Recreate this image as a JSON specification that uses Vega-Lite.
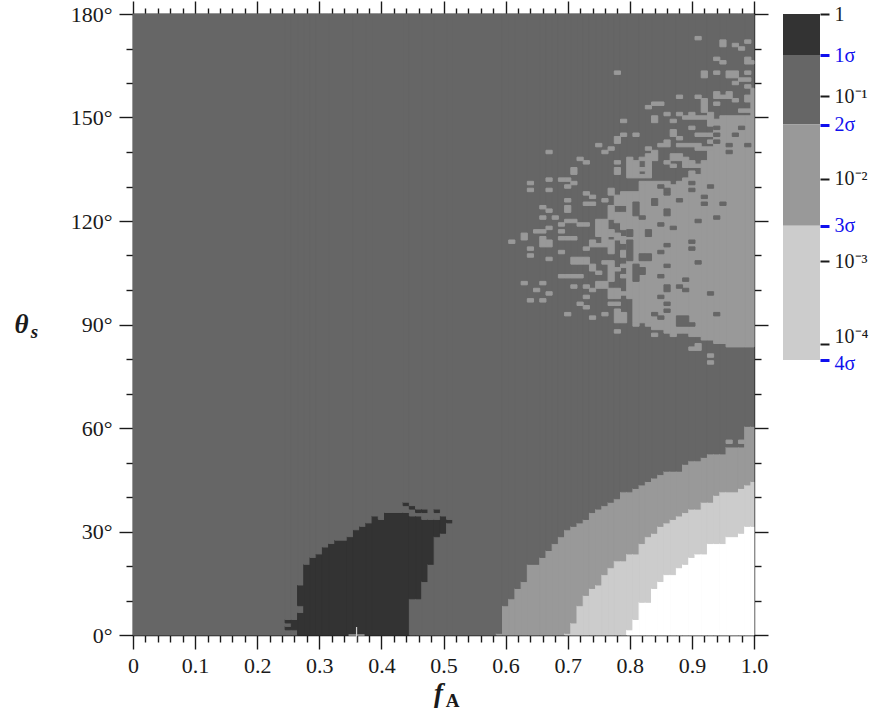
{
"$schema": "https://vega.github.io/schema/vega-lite/v6.json",
"background": "white",
"padding": {"left": 13, "top": 0, "right": 10, "bottom": 8},
"bounds": "flush",
"spacing": 29,
"datasets": {
"marker": [{"f": 0.36, "t": 0}],
"bar": [
{"p0": 0.3173, "p1": 1, "b": 0},
{"p0": 0.0455, "p1": 0.3173, "b": 1},
{"p0": 0.0027, "p1": 0.0455, "b": 2},
{"p0": 0.00006334, "p1": 0.0027, "b": 3}
],
"cells": [
{"f0":0,"f1":0.245,"t0":0,"t1":180,"b":1},
{"f0":0.245,"f1":0.255,"t0":0,"t1":1.5,"b":1},
{"f0":0.245,"f1":0.255,"t0":1.5,"t1":2.5,"b":0},
{"f0":0.245,"f1":0.255,"t0":2.5,"t1":3.5,"b":1},
{"f0":0.245,"f1":0.255,"t0":3.5,"t1":4.5,"b":0},
{"f0":0.245,"f1":0.255,"t0":4.5,"t1":180,"b":1},
{"f0":0.255,"f1":0.265,"t0":0,"t1":1.5,"b":1},
{"f0":0.255,"f1":0.265,"t0":1.5,"t1":4.5,"b":0},
{"f0":0.255,"f1":0.265,"t0":4.5,"t1":180,"b":1},
{"f0":0.265,"f1":0.275,"t0":0,"t1":6.5,"b":0},
{"f0":0.265,"f1":0.275,"t0":6.5,"t1":8.5,"b":1},
{"f0":0.265,"f1":0.275,"t0":8.5,"t1":14.5,"b":0},
{"f0":0.265,"f1":0.275,"t0":14.5,"t1":180,"b":1},
{"f0":0.275,"f1":0.285,"t0":0,"t1":20.5,"b":0},
{"f0":0.275,"f1":0.285,"t0":20.5,"t1":180,"b":1},
{"f0":0.285,"f1":0.295,"t0":0,"t1":22.5,"b":0},
{"f0":0.285,"f1":0.295,"t0":22.5,"t1":180,"b":1},
{"f0":0.295,"f1":0.305,"t0":0,"t1":23.5,"b":0},
{"f0":0.295,"f1":0.305,"t0":23.5,"t1":180,"b":1},
{"f0":0.305,"f1":0.315,"t0":0,"t1":25.5,"b":0},
{"f0":0.305,"f1":0.315,"t0":25.5,"t1":180,"b":1},
{"f0":0.315,"f1":0.325,"t0":0,"t1":26.5,"b":0},
{"f0":0.315,"f1":0.325,"t0":26.5,"t1":180,"b":1},
{"f0":0.325,"f1":0.345,"t0":0,"t1":27.5,"b":0},
{"f0":0.325,"f1":0.345,"t0":27.5,"t1":180,"b":1},
{"f0":0.345,"f1":0.355,"t0":0,"t1":28.5,"b":0},
{"f0":0.345,"f1":0.355,"t0":28.5,"t1":180,"b":1},
{"f0":0.355,"f1":0.365,"t0":0,"t1":30.5,"b":0},
{"f0":0.355,"f1":0.365,"t0":30.5,"t1":180,"b":1},
{"f0":0.365,"f1":0.375,"t0":0,"t1":31.5,"b":0},
{"f0":0.365,"f1":0.375,"t0":31.5,"t1":180,"b":1},
{"f0":0.375,"f1":0.385,"t0":0,"t1":32.5,"b":0},
{"f0":0.375,"f1":0.385,"t0":32.5,"t1":180,"b":1},
{"f0":0.385,"f1":0.395,"t0":0,"t1":34.5,"b":0},
{"f0":0.385,"f1":0.395,"t0":34.5,"t1":180,"b":1},
{"f0":0.395,"f1":0.405,"t0":0,"t1":33.5,"b":0},
{"f0":0.395,"f1":0.405,"t0":33.5,"t1":180,"b":1},
{"f0":0.405,"f1":0.435,"t0":0,"t1":35.5,"b":0},
{"f0":0.405,"f1":0.435,"t0":35.5,"t1":180,"b":1},
{"f0":0.435,"f1":0.445,"t0":0,"t1":35.5,"b":0},
{"f0":0.435,"f1":0.445,"t0":35.5,"t1":37.5,"b":1},
{"f0":0.435,"f1":0.445,"t0":37.5,"t1":38.5,"b":0},
{"f0":0.435,"f1":0.445,"t0":38.5,"t1":180,"b":1},
{"f0":0.445,"f1":0.455,"t0":0,"t1":10.5,"b":1},
{"f0":0.445,"f1":0.455,"t0":10.5,"t1":34.5,"b":0},
{"f0":0.445,"f1":0.455,"t0":34.5,"t1":36.5,"b":1},
{"f0":0.445,"f1":0.455,"t0":36.5,"t1":37.5,"b":0},
{"f0":0.445,"f1":0.455,"t0":37.5,"t1":180,"b":1},
{"f0":0.455,"f1":0.465,"t0":0,"t1":10.5,"b":1},
{"f0":0.455,"f1":0.465,"t0":10.5,"t1":34.5,"b":0},
{"f0":0.455,"f1":0.465,"t0":34.5,"t1":35.5,"b":1},
{"f0":0.455,"f1":0.465,"t0":35.5,"t1":36.5,"b":0},
{"f0":0.455,"f1":0.465,"t0":36.5,"t1":180,"b":1},
{"f0":0.465,"f1":0.475,"t0":0,"t1":15.5,"b":1},
{"f0":0.465,"f1":0.475,"t0":15.5,"t1":33.5,"b":0},
{"f0":0.465,"f1":0.475,"t0":33.5,"t1":35.5,"b":1},
{"f0":0.465,"f1":0.475,"t0":35.5,"t1":36.5,"b":0},
{"f0":0.465,"f1":0.475,"t0":36.5,"t1":180,"b":1},
{"f0":0.475,"f1":0.485,"t0":0,"t1":20.5,"b":1},
{"f0":0.475,"f1":0.485,"t0":20.5,"t1":33.5,"b":0},
{"f0":0.475,"f1":0.485,"t0":33.5,"t1":180,"b":1},
{"f0":0.485,"f1":0.495,"t0":0,"t1":28.5,"b":1},
{"f0":0.485,"f1":0.495,"t0":28.5,"t1":33.5,"b":0},
{"f0":0.485,"f1":0.495,"t0":33.5,"t1":35.5,"b":1},
{"f0":0.485,"f1":0.495,"t0":35.5,"t1":36.5,"b":0},
{"f0":0.485,"f1":0.495,"t0":36.5,"t1":180,"b":1},
{"f0":0.495,"f1":0.505,"t0":0,"t1":29.5,"b":1},
{"f0":0.495,"f1":0.505,"t0":29.5,"t1":34.5,"b":0},
{"f0":0.495,"f1":0.505,"t0":34.5,"t1":180,"b":1},
{"f0":0.505,"f1":0.515,"t0":0,"t1":32.5,"b":1},
{"f0":0.505,"f1":0.515,"t0":32.5,"t1":33.5,"b":0},
{"f0":0.505,"f1":0.515,"t0":33.5,"t1":180,"b":1},
{"f0":0.515,"f1":0.585,"t0":0,"t1":180,"b":1},
{"f0":0.585,"f1":0.595,"t0":0,"t1":0.5,"b":2},
{"f0":0.585,"f1":0.595,"t0":0.5,"t1":180,"b":1},
{"f0":0.595,"f1":0.605,"t0":0,"t1":8.5,"b":2},
{"f0":0.595,"f1":0.605,"t0":8.5,"t1":180,"b":1},
{"f0":0.605,"f1":0.615,"t0":0,"t1":10.5,"b":2},
{"f0":0.605,"f1":0.615,"t0":10.5,"t1":180,"b":1},
{"f0":0.615,"f1":0.625,"t0":0,"t1":13.5,"b":2},
{"f0":0.615,"f1":0.625,"t0":13.5,"t1":180,"b":1},
{"f0":0.625,"f1":0.635,"t0":0,"t1":15.5,"b":2},
{"f0":0.625,"f1":0.635,"t0":15.5,"t1":180,"b":1},
{"f0":0.635,"f1":0.655,"t0":0,"t1":20.5,"b":2},
{"f0":0.635,"f1":0.655,"t0":20.5,"t1":180,"b":1},
{"f0":0.655,"f1":0.665,"t0":0,"t1":22.5,"b":2},
{"f0":0.655,"f1":0.665,"t0":22.5,"t1":180,"b":1},
{"f0":0.665,"f1":0.675,"t0":0,"t1":24.5,"b":2},
{"f0":0.665,"f1":0.675,"t0":24.5,"t1":180,"b":1},
{"f0":0.675,"f1":0.685,"t0":0,"t1":26.5,"b":2},
{"f0":0.675,"f1":0.685,"t0":26.5,"t1":180,"b":1},
{"f0":0.685,"f1":0.695,"t0":0,"t1":28.5,"b":2},
{"f0":0.685,"f1":0.695,"t0":28.5,"t1":180,"b":1},
{"f0":0.695,"f1":0.705,"t0":0,"t1":0.5,"b":3},
{"f0":0.695,"f1":0.705,"t0":0.5,"t1":30.5,"b":2},
{"f0":0.695,"f1":0.705,"t0":30.5,"t1":180,"b":1},
{"f0":0.705,"f1":0.715,"t0":0,"t1":3.5,"b":3},
{"f0":0.705,"f1":0.715,"t0":3.5,"t1":31.5,"b":2},
{"f0":0.705,"f1":0.715,"t0":31.5,"t1":180,"b":1},
{"f0":0.715,"f1":0.725,"t0":0,"t1":8.5,"b":3},
{"f0":0.715,"f1":0.725,"t0":8.5,"t1":32.5,"b":2},
{"f0":0.715,"f1":0.725,"t0":32.5,"t1":180,"b":1},
{"f0":0.725,"f1":0.735,"t0":0,"t1":11.5,"b":3},
{"f0":0.725,"f1":0.735,"t0":11.5,"t1":33.5,"b":2},
{"f0":0.725,"f1":0.735,"t0":33.5,"t1":180,"b":1},
{"f0":0.735,"f1":0.745,"t0":0,"t1":13.5,"b":3},
{"f0":0.735,"f1":0.745,"t0":13.5,"t1":35.5,"b":2},
{"f0":0.735,"f1":0.745,"t0":35.5,"t1":180,"b":1},
{"f0":0.745,"f1":0.755,"t0":0,"t1":14.5,"b":3},
{"f0":0.745,"f1":0.755,"t0":14.5,"t1":36.5,"b":2},
{"f0":0.745,"f1":0.755,"t0":36.5,"t1":180,"b":1},
{"f0":0.755,"f1":0.765,"t0":0,"t1":17.5,"b":3},
{"f0":0.755,"f1":0.765,"t0":17.5,"t1":37.5,"b":2},
{"f0":0.755,"f1":0.765,"t0":37.5,"t1":180,"b":1},
{"f0":0.765,"f1":0.775,"t0":0,"t1":19.5,"b":3},
{"f0":0.765,"f1":0.775,"t0":19.5,"t1":38.5,"b":2},
{"f0":0.765,"f1":0.775,"t0":38.5,"t1":180,"b":1},
{"f0":0.775,"f1":0.785,"t0":0,"t1":21.5,"b":3},
{"f0":0.775,"f1":0.785,"t0":21.5,"t1":39.5,"b":2},
{"f0":0.775,"f1":0.785,"t0":39.5,"t1":180,"b":1},
{"f0":0.785,"f1":0.795,"t0":0,"t1":21.5,"b":3},
{"f0":0.785,"f1":0.795,"t0":21.5,"t1":41.5,"b":2},
{"f0":0.785,"f1":0.795,"t0":41.5,"t1":180,"b":1},
{"f0":0.795,"f1":0.805,"t0":0,"t1":1.5,"b":4},
{"f0":0.795,"f1":0.805,"t0":1.5,"t1":23.5,"b":3},
{"f0":0.795,"f1":0.805,"t0":23.5,"t1":41.5,"b":2},
{"f0":0.795,"f1":0.805,"t0":41.5,"t1":180,"b":1},
{"f0":0.805,"f1":0.815,"t0":0,"t1":4.5,"b":4},
{"f0":0.805,"f1":0.815,"t0":4.5,"t1":23.5,"b":3},
{"f0":0.805,"f1":0.815,"t0":23.5,"t1":42.5,"b":2},
{"f0":0.805,"f1":0.815,"t0":42.5,"t1":180,"b":1},
{"f0":0.815,"f1":0.825,"t0":0,"t1":9.5,"b":4},
{"f0":0.815,"f1":0.825,"t0":9.5,"t1":26.5,"b":3},
{"f0":0.815,"f1":0.825,"t0":26.5,"t1":43.5,"b":2},
{"f0":0.815,"f1":0.825,"t0":43.5,"t1":180,"b":1},
{"f0":0.825,"f1":0.835,"t0":0,"t1":9.5,"b":4},
{"f0":0.825,"f1":0.835,"t0":9.5,"t1":28.5,"b":3},
{"f0":0.825,"f1":0.835,"t0":28.5,"t1":44.5,"b":2},
{"f0":0.825,"f1":0.835,"t0":44.5,"t1":180,"b":1},
{"f0":0.835,"f1":0.845,"t0":0,"t1":13.5,"b":4},
{"f0":0.835,"f1":0.845,"t0":13.5,"t1":29.5,"b":3},
{"f0":0.835,"f1":0.845,"t0":29.5,"t1":45.5,"b":2},
{"f0":0.835,"f1":0.845,"t0":45.5,"t1":180,"b":1},
{"f0":0.845,"f1":0.855,"t0":0,"t1":15.5,"b":4},
{"f0":0.845,"f1":0.855,"t0":15.5,"t1":31.5,"b":3},
{"f0":0.845,"f1":0.855,"t0":31.5,"t1":46.5,"b":2},
{"f0":0.845,"f1":0.855,"t0":46.5,"t1":180,"b":1},
{"f0":0.855,"f1":0.865,"t0":0,"t1":17.5,"b":4},
{"f0":0.855,"f1":0.865,"t0":17.5,"t1":32.5,"b":3},
{"f0":0.855,"f1":0.865,"t0":32.5,"t1":47.5,"b":2},
{"f0":0.855,"f1":0.865,"t0":47.5,"t1":180,"b":1},
{"f0":0.865,"f1":0.875,"t0":0,"t1":17.5,"b":4},
{"f0":0.865,"f1":0.875,"t0":17.5,"t1":33.5,"b":3},
{"f0":0.865,"f1":0.875,"t0":33.5,"t1":47.5,"b":2},
{"f0":0.865,"f1":0.875,"t0":47.5,"t1":180,"b":1},
{"f0":0.875,"f1":0.885,"t0":0,"t1":19.5,"b":4},
{"f0":0.875,"f1":0.885,"t0":19.5,"t1":34.5,"b":3},
{"f0":0.875,"f1":0.885,"t0":34.5,"t1":47.5,"b":2},
{"f0":0.875,"f1":0.885,"t0":47.5,"t1":180,"b":1},
{"f0":0.885,"f1":0.895,"t0":0,"t1":20.5,"b":4},
{"f0":0.885,"f1":0.895,"t0":20.5,"t1":35.5,"b":3},
{"f0":0.885,"f1":0.895,"t0":35.5,"t1":49.5,"b":2},
{"f0":0.885,"f1":0.895,"t0":49.5,"t1":180,"b":1},
{"f0":0.895,"f1":0.905,"t0":0,"t1":22.5,"b":4},
{"f0":0.895,"f1":0.905,"t0":22.5,"t1":36.5,"b":3},
{"f0":0.895,"f1":0.905,"t0":36.5,"t1":50.5,"b":2},
{"f0":0.895,"f1":0.905,"t0":50.5,"t1":180,"b":1},
{"f0":0.905,"f1":0.915,"t0":0,"t1":23.5,"b":4},
{"f0":0.905,"f1":0.915,"t0":23.5,"t1":36.5,"b":3},
{"f0":0.905,"f1":0.915,"t0":36.5,"t1":50.5,"b":2},
{"f0":0.905,"f1":0.915,"t0":50.5,"t1":180,"b":1},
{"f0":0.915,"f1":0.925,"t0":0,"t1":23.5,"b":4},
{"f0":0.915,"f1":0.925,"t0":23.5,"t1":38.5,"b":3},
{"f0":0.915,"f1":0.925,"t0":38.5,"t1":51.5,"b":2},
{"f0":0.915,"f1":0.925,"t0":51.5,"t1":180,"b":1},
{"f0":0.925,"f1":0.935,"t0":0,"t1":26.5,"b":4},
{"f0":0.925,"f1":0.935,"t0":26.5,"t1":38.5,"b":3},
{"f0":0.925,"f1":0.935,"t0":38.5,"t1":52.5,"b":2},
{"f0":0.925,"f1":0.935,"t0":52.5,"t1":180,"b":1},
{"f0":0.935,"f1":0.945,"t0":0,"t1":26.5,"b":4},
{"f0":0.935,"f1":0.945,"t0":26.5,"t1":40.5,"b":3},
{"f0":0.935,"f1":0.945,"t0":40.5,"t1":52.5,"b":2},
{"f0":0.935,"f1":0.945,"t0":52.5,"t1":180,"b":1},
{"f0":0.945,"f1":0.955,"t0":0,"t1":26.5,"b":4},
{"f0":0.945,"f1":0.955,"t0":26.5,"t1":41.5,"b":3},
{"f0":0.945,"f1":0.955,"t0":41.5,"t1":52.5,"b":2},
{"f0":0.945,"f1":0.955,"t0":52.5,"t1":180,"b":1},
{"f0":0.955,"f1":0.975,"t0":0,"t1":28.5,"b":4},
{"f0":0.955,"f1":0.975,"t0":28.5,"t1":41.5,"b":3},
{"f0":0.955,"f1":0.975,"t0":41.5,"t1":54.5,"b":2},
{"f0":0.955,"f1":0.975,"t0":54.5,"t1":180,"b":1},
{"f0":0.975,"f1":0.985,"t0":0,"t1":29.5,"b":4},
{"f0":0.975,"f1":0.985,"t0":29.5,"t1":42.5,"b":3},
{"f0":0.975,"f1":0.985,"t0":42.5,"t1":54.5,"b":2},
{"f0":0.975,"f1":0.985,"t0":54.5,"t1":180,"b":1},
{"f0":0.985,"f1":0.995,"t0":0,"t1":31.5,"b":4},
{"f0":0.985,"f1":0.995,"t0":31.5,"t1":43.5,"b":3},
{"f0":0.985,"f1":0.995,"t0":43.5,"t1":60.5,"b":2},
{"f0":0.985,"f1":0.995,"t0":60.5,"t1":180,"b":1},
{"f0":0.995,"f1":1,"t0":0,"t1":31.5,"b":4},
{"f0":0.995,"f1":1,"t0":31.5,"t1":44.5,"b":3},
{"f0":0.995,"f1":1,"t0":44.5,"t1":60.5,"b":2},
{"f0":0.995,"f1":1,"t0":60.5,"t1":180,"b":1},
{"f0":0.955,"f1":0.965,"t0":55.5,"t1":56.5,"b":2},
{"f0":0.975,"f1":0.985,"t0":55.5,"t1":56.5,"b":2},
{"f0":0.995,"f1":1,"t0":83.5,"t1":158.5,"b":2},
{"f0":0.985,"f1":0.995,"t0":83.5,"t1":150.5,"b":2},
{"f0":0.955,"f1":0.985,"t0":83.5,"t1":150.5,"b":2},
{"f0":0.945,"f1":0.955,"t0":84.5,"t1":150.5,"b":2},
{"f0":0.935,"f1":0.945,"t0":84.5,"t1":149.5,"b":2},
{"f0":0.925,"f1":0.935,"t0":85.5,"t1":140.5,"b":2},
{"f0":0.915,"f1":0.925,"t0":85.5,"t1":137.5,"b":2},
{"f0":0.905,"f1":0.915,"t0":86.5,"t1":133.5,"b":2},
{"f0":0.895,"f1":0.905,"t0":86.5,"t1":134.5,"b":2},
{"f0":0.885,"f1":0.895,"t0":87.5,"t1":132.5,"b":2},
{"f0":0.875,"f1":0.885,"t0":87.5,"t1":131.5,"b":2},
{"f0":0.865,"f1":0.875,"t0":86.5,"t1":130.5,"b":2},
{"f0":0.855,"f1":0.865,"t0":87.5,"t1":131.5,"b":2},
{"f0":0.835,"f1":0.855,"t0":88.5,"t1":131.5,"b":2},
{"f0":0.825,"f1":0.835,"t0":90.5,"t1":131.5,"b":2},
{"f0":0.825,"f1":0.835,"t0":132.5,"t1":139.5,"b":2},
{"f0":0.815,"f1":0.825,"t0":90.5,"t1":130.5,"b":2},
{"f0":0.805,"f1":0.815,"t0":90.5,"t1":128.5,"b":2},
{"f0":0.805,"f1":0.815,"t0":132.5,"t1":137.5,"b":2},
{"f0":0.795,"f1":0.805,"t0":97.5,"t1":128.5,"b":2},
{"f0":0.795,"f1":0.805,"t0":132.5,"t1":138.5,"b":2},
{"f0":0.785,"f1":0.795,"t0":90.5,"t1":93.5,"b":2},
{"f0":0.785,"f1":0.795,"t0":98.5,"t1":99.5,"b":2},
{"f0":0.785,"f1":0.795,"t0":103.5,"t1":104.5,"b":2},
{"f0":0.785,"f1":0.795,"t0":106.5,"t1":107.5,"b":2},
{"f0":0.785,"f1":0.795,"t0":109.5,"t1":111.5,"b":2},
{"f0":0.785,"f1":0.795,"t0":113.5,"t1":115.5,"b":2},
{"f0":0.785,"f1":0.795,"t0":117.5,"t1":122.5,"b":2},
{"f0":0.785,"f1":0.795,"t0":124.5,"t1":128.5,"b":2},
{"f0":0.775,"f1":0.785,"t0":87.5,"t1":88.5,"b":2},
{"f0":0.775,"f1":0.785,"t0":90.5,"t1":94.5,"b":2},
{"f0":0.775,"f1":0.785,"t0":95.5,"t1":96.5,"b":2},
{"f0":0.775,"f1":0.785,"t0":97.5,"t1":100.5,"b":2},
{"f0":0.775,"f1":0.785,"t0":105.5,"t1":106.5,"b":2},
{"f0":0.775,"f1":0.785,"t0":114.5,"t1":116.5,"b":2},
{"f0":0.775,"f1":0.785,"t0":119.5,"t1":122.5,"b":2},
{"f0":0.775,"f1":0.785,"t0":124.5,"t1":127.5,"b":2},
{"f0":0.775,"f1":0.785,"t0":133.5,"t1":135.5,"b":2},
{"f0":0.775,"f1":0.785,"t0":136.5,"t1":137.5,"b":2},
{"f0":0.775,"f1":0.785,"t0":142.5,"t1":144.5,"b":2},
{"f0":0.765,"f1":0.775,"t0":95.5,"t1":96.5,"b":2},
{"f0":0.765,"f1":0.775,"t0":97.5,"t1":100.5,"b":2},
{"f0":0.765,"f1":0.775,"t0":102.5,"t1":108.5,"b":2},
{"f0":0.765,"f1":0.775,"t0":110.5,"t1":114.5,"b":2},
{"f0":0.765,"f1":0.775,"t0":115.5,"t1":117.5,"b":2},
{"f0":0.765,"f1":0.775,"t0":120.5,"t1":124.5,"b":2},
{"f0":0.765,"f1":0.775,"t0":127.5,"t1":129.5,"b":2},
{"f0":0.765,"f1":0.775,"t0":140.5,"t1":141.5,"b":2},
{"f0":0.755,"f1":0.765,"t0":92.5,"t1":93.5,"b":2},
{"f0":0.755,"f1":0.765,"t0":100.5,"t1":102.5,"b":2},
{"f0":0.755,"f1":0.765,"t0":107.5,"t1":108.5,"b":2},
{"f0":0.755,"f1":0.765,"t0":112.5,"t1":120.5,"b":2},
{"f0":0.755,"f1":0.765,"t0":125.5,"t1":126.5,"b":2},
{"f0":0.755,"f1":0.765,"t0":139.5,"t1":140.5,"b":2},
{"f0":0.745,"f1":0.755,"t0":100.5,"t1":102.5,"b":2},
{"f0":0.745,"f1":0.755,"t0":104.5,"t1":105.5,"b":2},
{"f0":0.745,"f1":0.755,"t0":112.5,"t1":113.5,"b":2},
{"f0":0.745,"f1":0.755,"t0":115.5,"t1":120.5,"b":2},
{"f0":0.745,"f1":0.755,"t0":141.5,"t1":142.5,"b":2},
{"f0":0.735,"f1":0.745,"t0":91.5,"t1":92.5,"b":2},
{"f0":0.735,"f1":0.745,"t0":99.5,"t1":100.5,"b":2},
{"f0":0.735,"f1":0.745,"t0":105.5,"t1":107.5,"b":2},
{"f0":0.735,"f1":0.745,"t0":112.5,"t1":114.5,"b":2},
{"f0":0.735,"f1":0.745,"t0":124.5,"t1":125.5,"b":2},
{"f0":0.735,"f1":0.745,"t0":126.5,"t1":127.5,"b":2},
{"f0":0.725,"f1":0.735,"t0":94.5,"t1":95.5,"b":2},
{"f0":0.725,"f1":0.735,"t0":97.5,"t1":98.5,"b":2},
{"f0":0.725,"f1":0.735,"t0":100.5,"t1":101.5,"b":2},
{"f0":0.725,"f1":0.735,"t0":107.5,"t1":109.5,"b":2},
{"f0":0.725,"f1":0.735,"t0":111.5,"t1":112.5,"b":2},
{"f0":0.725,"f1":0.735,"t0":118.5,"t1":119.5,"b":2},
{"f0":0.725,"f1":0.735,"t0":124.5,"t1":125.5,"b":2},
{"f0":0.725,"f1":0.735,"t0":127.5,"t1":128.5,"b":2},
{"f0":0.725,"f1":0.735,"t0":136.5,"t1":137.5,"b":2},
{"f0":0.715,"f1":0.725,"t0":95.5,"t1":96.5,"b":2},
{"f0":0.715,"f1":0.725,"t0":103.5,"t1":104.5,"b":2},
{"f0":0.715,"f1":0.725,"t0":107.5,"t1":109.5,"b":2},
{"f0":0.715,"f1":0.725,"t0":118.5,"t1":119.5,"b":2},
{"f0":0.715,"f1":0.725,"t0":137.5,"t1":138.5,"b":2},
{"f0":0.705,"f1":0.715,"t0":100.5,"t1":101.5,"b":2},
{"f0":0.705,"f1":0.715,"t0":103.5,"t1":104.5,"b":2},
{"f0":0.705,"f1":0.715,"t0":107.5,"t1":109.5,"b":2},
{"f0":0.705,"f1":0.715,"t0":114.5,"t1":115.5,"b":2},
{"f0":0.705,"f1":0.715,"t0":119.5,"t1":120.5,"b":2},
{"f0":0.705,"f1":0.715,"t0":130.5,"t1":131.5,"b":2},
{"f0":0.705,"f1":0.715,"t0":133.5,"t1":135.5,"b":2},
{"f0":0.695,"f1":0.705,"t0":92.5,"t1":93.5,"b":2},
{"f0":0.695,"f1":0.705,"t0":103.5,"t1":104.5,"b":2},
{"f0":0.695,"f1":0.705,"t0":114.5,"t1":115.5,"b":2},
{"f0":0.695,"f1":0.705,"t0":119.5,"t1":120.5,"b":2},
{"f0":0.695,"f1":0.705,"t0":122.5,"t1":124.5,"b":2},
{"f0":0.695,"f1":0.705,"t0":125.5,"t1":126.5,"b":2},
{"f0":0.695,"f1":0.705,"t0":129.5,"t1":130.5,"b":2},
{"f0":0.695,"f1":0.705,"t0":131.5,"t1":132.5,"b":2},
{"f0":0.685,"f1":0.695,"t0":103.5,"t1":104.5,"b":2},
{"f0":0.685,"f1":0.695,"t0":110.5,"t1":111.5,"b":2},
{"f0":0.685,"f1":0.695,"t0":114.5,"t1":115.5,"b":2},
{"f0":0.685,"f1":0.695,"t0":116.5,"t1":117.5,"b":2},
{"f0":0.685,"f1":0.695,"t0":118.5,"t1":119.5,"b":2},
{"f0":0.685,"f1":0.695,"t0":131.5,"t1":132.5,"b":2},
{"f0":0.675,"f1":0.685,"t0":120.5,"t1":121.5,"b":2},
{"f0":0.665,"f1":0.675,"t0":98.5,"t1":99.5,"b":2},
{"f0":0.665,"f1":0.675,"t0":108.5,"t1":109.5,"b":2},
{"f0":0.665,"f1":0.675,"t0":112.5,"t1":114.5,"b":2},
{"f0":0.665,"f1":0.675,"t0":117.5,"t1":118.5,"b":2},
{"f0":0.665,"f1":0.675,"t0":122.5,"t1":123.5,"b":2},
{"f0":0.665,"f1":0.675,"t0":128.5,"t1":129.5,"b":2},
{"f0":0.665,"f1":0.675,"t0":131.5,"t1":132.5,"b":2},
{"f0":0.665,"f1":0.675,"t0":139.5,"t1":140.5,"b":2},
{"f0":0.655,"f1":0.665,"t0":96.5,"t1":97.5,"b":2},
{"f0":0.655,"f1":0.665,"t0":101.5,"t1":102.5,"b":2},
{"f0":0.655,"f1":0.665,"t0":112.5,"t1":115.5,"b":2},
{"f0":0.655,"f1":0.665,"t0":116.5,"t1":117.5,"b":2},
{"f0":0.655,"f1":0.665,"t0":120.5,"t1":121.5,"b":2},
{"f0":0.655,"f1":0.665,"t0":123.5,"t1":124.5,"b":2},
{"f0":0.645,"f1":0.655,"t0":99.5,"t1":100.5,"b":2},
{"f0":0.645,"f1":0.655,"t0":116.5,"t1":117.5,"b":2},
{"f0":0.635,"f1":0.645,"t0":96.5,"t1":97.5,"b":2},
{"f0":0.635,"f1":0.645,"t0":109.5,"t1":110.5,"b":2},
{"f0":0.635,"f1":0.645,"t0":111.5,"t1":112.5,"b":2},
{"f0":0.635,"f1":0.645,"t0":128.5,"t1":129.5,"b":2},
{"f0":0.635,"f1":0.645,"t0":130.5,"t1":131.5,"b":2},
{"f0":0.625,"f1":0.635,"t0":101.5,"t1":102.5,"b":2},
{"f0":0.625,"f1":0.635,"t0":114.5,"t1":116.5,"b":2},
{"f0":0.605,"f1":0.615,"t0":113.5,"t1":114.5,"b":2},
{"f0":0.905,"f1":0.915,"t0":172.5,"t1":173.5,"b":2},
{"f0":0.945,"f1":0.955,"t0":170.5,"t1":172.5,"b":2},
{"f0":0.965,"f1":0.975,"t0":170.5,"t1":171.5,"b":2},
{"f0":0.975,"f1":0.985,"t0":169.5,"t1":170.5,"b":2},
{"f0":0.985,"f1":0.995,"t0":171.5,"t1":172.5,"b":2},
{"f0":0.935,"f1":0.945,"t0":166.5,"t1":167.5,"b":2},
{"f0":0.945,"f1":0.955,"t0":165.5,"t1":166.5,"b":2},
{"f0":0.985,"f1":0.995,"t0":165.5,"t1":167.5,"b":2},
{"f0":0.995,"f1":1,"t0":165.5,"t1":166.5,"b":2},
{"f0":0.915,"f1":0.925,"t0":161.5,"t1":163.5,"b":2},
{"f0":0.935,"f1":0.945,"t0":162.5,"t1":163.5,"b":2},
{"f0":0.955,"f1":0.975,"t0":161.5,"t1":163.5,"b":2},
{"f0":0.965,"f1":0.975,"t0":159.5,"t1":160.5,"b":2},
{"f0":0.975,"f1":0.995,"t0":160.5,"t1":161.5,"b":2},
{"f0":0.985,"f1":0.995,"t0":162.5,"t1":163.5,"b":2},
{"f0":0.985,"f1":0.995,"t0":158.5,"t1":159.5,"b":2},
{"f0":0.935,"f1":0.945,"t0":155.5,"t1":157.5,"b":2},
{"f0":0.945,"f1":0.955,"t0":155.5,"t1":156.5,"b":2},
{"f0":0.955,"f1":0.965,"t0":155.5,"t1":157.5,"b":2},
{"f0":0.875,"f1":0.885,"t0":155.5,"t1":156.5,"b":2},
{"f0":0.905,"f1":0.915,"t0":155.5,"t1":156.5,"b":2},
{"f0":0.915,"f1":0.925,"t0":151.5,"t1":155.5,"b":2},
{"f0":0.935,"f1":0.945,"t0":153.5,"t1":154.5,"b":2},
{"f0":0.965,"f1":0.975,"t0":154.5,"t1":155.5,"b":2},
{"f0":0.985,"f1":0.995,"t0":154.5,"t1":156.5,"b":2},
{"f0":0.975,"f1":0.995,"t0":151.5,"t1":152.5,"b":2},
{"f0":0.825,"f1":0.835,"t0":152.5,"t1":153.5,"b":2},
{"f0":0.835,"f1":0.855,"t0":153.5,"t1":154.5,"b":2},
{"f0":0.855,"f1":0.865,"t0":150.5,"t1":151.5,"b":2},
{"f0":0.875,"f1":0.885,"t0":150.5,"t1":151.5,"b":2},
{"f0":0.895,"f1":0.905,"t0":150.5,"t1":151.5,"b":2},
{"f0":0.835,"f1":0.845,"t0":148.5,"t1":150.5,"b":2},
{"f0":0.865,"f1":0.875,"t0":148.5,"t1":149.5,"b":2},
{"f0":0.885,"f1":0.925,"t0":149.5,"t1":150.5,"b":2},
{"f0":0.925,"f1":0.935,"t0":147.5,"t1":151.5,"b":2},
{"f0":0.785,"f1":0.795,"t0":148.5,"t1":149.5,"b":2},
{"f0":0.785,"f1":0.795,"t0":144.5,"t1":145.5,"b":2},
{"f0":0.805,"f1":0.815,"t0":144.5,"t1":145.5,"b":2},
{"f0":0.865,"f1":0.875,"t0":144.5,"t1":146.5,"b":2},
{"f0":0.875,"f1":0.885,"t0":143.5,"t1":144.5,"b":2},
{"f0":0.895,"f1":0.905,"t0":146.5,"t1":147.5,"b":2},
{"f0":0.905,"f1":0.925,"t0":144.5,"t1":145.5,"b":2},
{"f0":0.845,"f1":0.865,"t0":141.5,"t1":142.5,"b":2},
{"f0":0.855,"f1":0.865,"t0":142.5,"t1":143.5,"b":2},
{"f0":0.875,"f1":0.905,"t0":141.5,"t1":142.5,"b":2},
{"f0":0.905,"f1":0.915,"t0":140.5,"t1":142.5,"b":2},
{"f0":0.915,"f1":0.925,"t0":140.5,"t1":141.5,"b":2},
{"f0":0.825,"f1":0.835,"t0":140.5,"t1":141.5,"b":2},
{"f0":0.835,"f1":0.845,"t0":137.5,"t1":140.5,"b":2},
{"f0":0.815,"f1":0.825,"t0":137.5,"t1":138.5,"b":2},
{"f0":0.865,"f1":0.885,"t0":137.5,"t1":139.5,"b":2},
{"f0":0.885,"f1":0.895,"t0":135.5,"t1":138.5,"b":2},
{"f0":0.925,"f1":0.935,"t0":140.5,"t1":141.5,"b":2},
{"f0":0.925,"f1":0.935,"t0":142.5,"t1":143.5,"b":2},
{"f0":0.925,"f1":0.935,"t0":144.5,"t1":145.5,"b":2},
{"f0":0.855,"f1":0.865,"t0":136.5,"t1":137.5,"b":2},
{"f0":0.865,"f1":0.875,"t0":135.5,"t1":136.5,"b":2},
{"f0":0.895,"f1":0.905,"t0":135.5,"t1":137.5,"b":2},
{"f0":0.905,"f1":0.915,"t0":135.5,"t1":136.5,"b":2},
{"f0":0.775,"f1":0.785,"t0":162.5,"t1":163.5,"b":2},
{"f0":0.815,"f1":0.825,"t0":130.5,"t1":131.5,"b":2},
{"f0":0.815,"f1":0.825,"t0":132.5,"t1":133.5,"b":2},
{"f0":0.815,"f1":0.825,"t0":134.5,"t1":135.5,"b":2},
{"f0":0.925,"f1":0.935,"t0":80.5,"t1":81.5,"b":2},
{"f0":0.925,"f1":0.935,"t0":78.5,"t1":79.5,"b":2},
{"f0":0.835,"f1":0.845,"t0":86.5,"t1":87.5,"b":2},
{"f0":0.805,"f1":0.815,"t0":89.5,"t1":90.5,"b":2},
{"f0":0.825,"f1":0.835,"t0":89.5,"t1":90.5,"b":2},
{"f0":0.895,"f1":0.905,"t0":82.5,"t1":83.5,"b":2},
{"f0":0.905,"f1":0.915,"t0":82.5,"t1":84.5,"b":2},
{"f0":0.955,"f1":0.965,"t0":141.5,"t1":142.5,"b":1},
{"f0":0.985,"f1":0.995,"t0":141.5,"t1":142.5,"b":1},
{"f0":0.955,"f1":0.965,"t0":139.5,"t1":140.5,"b":1},
{"f0":0.965,"f1":0.975,"t0":144.5,"t1":145.5,"b":1},
{"f0":0.975,"f1":0.985,"t0":146.5,"t1":147.5,"b":1},
{"f0":0.935,"f1":0.945,"t0":142.5,"t1":143.5,"b":1},
{"f0":0.935,"f1":0.945,"t0":144.5,"t1":145.5,"b":1},
{"f0":0.935,"f1":0.945,"t0":146.5,"t1":147.5,"b":1},
{"f0":0.845,"f1":0.855,"t0":129.5,"t1":130.5,"b":1},
{"f0":0.855,"f1":0.865,"t0":127.5,"t1":128.5,"b":1},
{"f0":0.895,"f1":0.905,"t0":130.5,"t1":131.5,"b":1},
{"f0":0.925,"f1":0.935,"t0":129.5,"t1":130.5,"b":1},
{"f0":0.875,"f1":0.885,"t0":125.5,"t1":126.5,"b":1},
{"f0":0.915,"f1":0.925,"t0":126.5,"t1":127.5,"b":1},
{"f0":0.855,"f1":0.865,"t0":128.5,"t1":129.5,"b":1},
{"f0":0.895,"f1":0.905,"t0":128.5,"t1":129.5,"b":1},
{"f0":0.915,"f1":0.925,"t0":124.5,"t1":125.5,"b":1},
{"f0":0.945,"f1":0.955,"t0":124.5,"t1":125.5,"b":1},
{"f0":0.835,"f1":0.845,"t0":124.5,"t1":126.5,"b":1},
{"f0":0.855,"f1":0.865,"t0":121.5,"t1":123.5,"b":1},
{"f0":0.935,"f1":0.945,"t0":120.5,"t1":121.5,"b":1},
{"f0":0.905,"f1":0.915,"t0":119.5,"t1":120.5,"b":1},
{"f0":0.845,"f1":0.855,"t0":118.5,"t1":119.5,"b":1},
{"f0":0.865,"f1":0.875,"t0":117.5,"t1":118.5,"b":1},
{"f0":0.895,"f1":0.905,"t0":113.5,"t1":114.5,"b":1},
{"f0":0.895,"f1":0.905,"t0":111.5,"t1":112.5,"b":1},
{"f0":0.855,"f1":0.865,"t0":112.5,"t1":113.5,"b":1},
{"f0":0.845,"f1":0.855,"t0":110.5,"t1":111.5,"b":1},
{"f0":0.855,"f1":0.865,"t0":106.5,"t1":107.5,"b":1},
{"f0":0.905,"f1":0.915,"t0":107.5,"t1":108.5,"b":1},
{"f0":0.845,"f1":0.855,"t0":103.5,"t1":104.5,"b":1},
{"f0":0.885,"f1":0.895,"t0":102.5,"t1":103.5,"b":1},
{"f0":0.875,"f1":0.885,"t0":100.5,"t1":101.5,"b":1},
{"f0":0.885,"f1":0.895,"t0":99.5,"t1":100.5,"b":1},
{"f0":0.855,"f1":0.865,"t0":99.5,"t1":101.5,"b":1},
{"f0":0.925,"f1":0.935,"t0":98.5,"t1":99.5,"b":1},
{"f0":0.845,"f1":0.855,"t0":97.5,"t1":98.5,"b":1},
{"f0":0.855,"f1":0.865,"t0":95.5,"t1":96.5,"b":1},
{"f0":0.855,"f1":0.865,"t0":93.5,"t1":94.5,"b":1},
{"f0":0.935,"f1":0.945,"t0":92.5,"t1":93.5,"b":1},
{"f0":0.845,"f1":0.855,"t0":91.5,"t1":92.5,"b":1},
{"f0":0.875,"f1":0.895,"t0":89.5,"t1":92.5,"b":1},
{"f0":0.895,"f1":0.905,"t0":89.5,"t1":90.5,"b":1},
{"f0":0.835,"f1":0.845,"t0":92.5,"t1":93.5,"b":1},
{"f0":0.825,"f1":0.835,"t0":115.5,"t1":117.5,"b":1},
{"f0":0.825,"f1":0.835,"t0":108.5,"t1":110.5,"b":1},
{"f0":0.815,"f1":0.825,"t0":120.5,"t1":121.5,"b":1},
{"f0":0.815,"f1":0.825,"t0":108.5,"t1":110.5,"b":1},
{"f0":0.815,"f1":0.825,"t0":104.5,"t1":106.5,"b":1},
{"f0":0.805,"f1":0.815,"t0":121.5,"t1":125.5,"b":1},
{"f0":0.805,"f1":0.815,"t0":102.5,"t1":107.5,"b":1},
{"f0":0.795,"f1":0.805,"t0":115.5,"t1":117.5,"b":1},
{"f0":0.795,"f1":0.805,"t0":108.5,"t1":114.5,"b":1}
]
},
"hconcat": [
{
"width": 621,
"height": 621,
"view": {"fill": "#666666", "stroke": null},
"layer": [
{
"data": {"name": "cells"},
"mark": {"type": "rect", "strokeWidth": 1},
"encoding": {
"x": {"field": "f0", "type": "quantitative", "scale": {"domain": [0, 1], "nice": false, "zero": false},
"axis": {"orient": "bottom",
"values": [0,0.02,0.04,0.06,0.08,0.1,0.12,0.14,0.16,0.18,0.2,0.22,0.24,0.26,0.28,0.3,0.32,0.34,0.36,0.38,0.4,0.42,0.44,0.46,0.48,0.5,0.52,0.54,0.56,0.58,0.6,0.62,0.64,0.66,0.68,0.7,0.72,0.74,0.76,0.78,0.8,0.82,0.84,0.86,0.88,0.9,0.92,0.94,0.96,0.98,1],
"tickSize": {"condition": {"test": "abs(datum.value*10-round(datum.value*10))<0.001", "value": 14}, "value": 7},
"labelExpr": "abs(datum.value*10-round(datum.value*10))<0.001 ? (datum.value==0 ? '0' : format(datum.value,'.1f')) : ''",
"labelPadding": 6,
"title": "f", "titleFontSize": 27, "titleFontStyle": "italic", "titleFontWeight": "bold",
"titleX": 305, "titleY": 66, "titleAlign": "center", "titleBaseline": "alphabetic"}},
"x2": {"field": "f1"},
"y": {"field": "t0", "type": "quantitative", "scale": {"domain": [0, 180], "nice": false, "zero": false},
"axis": {"orient": "left",
"values": [0,10,20,30,40,50,60,70,80,90,100,110,120,130,140,150,160,170,180],
"tickSize": {"condition": {"test": "datum.value%30==0", "value": 14}, "value": 7},
"labelExpr": "datum.value%30==0 ? datum.value+'°' : ''",
"labelPadding": 7,
"title": "θ", "titleFontSize": 27, "titleFontStyle": "italic", "titleFontWeight": "bold",
"titleAngle": 0, "titleX": -112, "titleY": 318, "titleAlign": "center", "titleBaseline": "alphabetic"}},
"y2": {"field": "t1"},
"color": {"field": "b", "type": "ordinal", "scale": {"domain": [0,1,2,3,4], "range": ["#333333","#666666","#999999","#cccccc","#ffffff"]}, "legend": null},
"stroke": {"field": "b", "type": "ordinal", "scale": {"domain": [0,1,2,3,4], "range": ["#333333","#666666","#999999","#cccccc","#ffffff"]}, "legend": null}
}
},
{
"data": {"name": "marker"},
"mark": {"type": "point", "shape": "M-1,0H1M0,-1V1", "size": 256, "filled": false, "stroke": "#cfcfcf", "strokeWidth": 1.2, "opacity": 1, "clip": false},
"encoding": {
"x": {"field": "f", "type": "quantitative", "scale": {"domain": [0, 1], "nice": false, "zero": false},
"axis": {"orient": "top",
"values": [0,0.02,0.04,0.06,0.08,0.1,0.12,0.14,0.16,0.18,0.2,0.22,0.24,0.26,0.28,0.3,0.32,0.34,0.36,0.38,0.4,0.42,0.44,0.46,0.48,0.5,0.52,0.54,0.56,0.58,0.6,0.62,0.64,0.66,0.68,0.7,0.72,0.74,0.76,0.78,0.8,0.82,0.84,0.86,0.88,0.9,0.92,0.94,0.96,0.98,1],
"tickSize": {"condition": {"test": "abs(datum.value*10-round(datum.value*10))<0.001", "value": 13}, "value": 6},
"labels": false,
"title": "A", "titleFontSize": 19, "titleFontWeight": "bold", "titleFontStyle": "normal",
"titleX": 319, "titleY": 692, "titleAlign": "center", "titleBaseline": "alphabetic"}},
"y": {"field": "t", "type": "quantitative", "scale": {"domain": [0, 180], "nice": false, "zero": false},
"axis": {"orient": "right",
"values": [0,10,20,30,40,50,60,70,80,90,100,110,120,130,140,150,160,170,180],
"tickSize": {"condition": {"test": "datum.value%30==0", "value": 14}, "value": 7},
"labels": false,
"title": "s", "titleFontSize": 19, "titleFontStyle": "italic", "titleFontWeight": "bold",
"titleAngle": 0, "titleX": -720, "titleY": 323, "titleAlign": "center", "titleBaseline": "alphabetic"}}
}
}
],
"resolve": {"axis": {"x": "independent", "y": "independent"}}
},
{
"width": 37,
"height": 346,
"data": {"name": "bar"},
"mark": {"type": "rect", "strokeWidth": 0},
"encoding": {
"y": {"field": "p0", "type": "quantitative", "scale": {"type": "log", "domain": [0.00006334, 1], "nice": false},
"axis": {"orient": "right", "domain": false, "grid": false, "title": null,
"values": [1, 0.3173, 0.1, 0.0455, 0.01, 0.0027, 0.001, 0.0001, 0.00006334],
"labelExpr": "datum.value==1 ? '1' : datum.value==0.1 ? '10⁻¹' : datum.value==0.01 ? '10⁻²' : datum.value==0.001 ? '10⁻³' : datum.value==0.0001 ? '10⁻⁴' : datum.value==0.3173 ? '1σ' : datum.value==0.0455 ? '2σ' : datum.value==0.0027 ? '3σ' : '4σ'",
"labelColor": {"condition": {"test": "indexof([0.3173,0.0455,0.0027,0.00006334], datum.value) >= 0", "value": "#1010ee"}, "value": "#1a1a1a"},
"tickColor": {"condition": {"test": "indexof([0.3173,0.0455,0.0027,0.00006334], datum.value) >= 0", "value": "#1010ee"}, "value": "#1a1a1a"},
"tickWidth": {"condition": {"test": "indexof([0.3173,0.0455,0.0027,0.00006334], datum.value) >= 0", "value": 3}, "value": 2},
"labelOffset": {"condition": [{"test": "datum.value==0.0001", "value": -7}, {"test": "datum.value==0.00006334", "value": 3}], "value": 0},
"tickSize": 9,
"labelFontSize": 20,
"labelPadding": 5,
"labelBaseline": "middle"}},
"y2": {"field": "p1"},
"color": {"field": "b", "type": "ordinal", "scale": {"domain": [0,1,2,3,4], "range": ["#333333","#666666","#999999","#cccccc","#ffffff"]}, "legend": null}
}
}
],
"config": {
"view": {"stroke": null},
"font": "Liberation Serif",
"axis": {
"domainColor": "#1a1a1a", "domainWidth": 1.4, "domainCap": "square",
"tickColor": "#1a1a1a", "tickWidth": 1.4, "tickCap": "butt",
"labelFont": "Liberation Serif", "labelFontSize": 22, "labelColor": "#1a1a1a",
"titleFont": "Liberation Serif", "titleColor": "#1a1a1a",
"grid": false, "labelFlush": false, "labelOverlap": false, "labelBound": false
}
}
}
